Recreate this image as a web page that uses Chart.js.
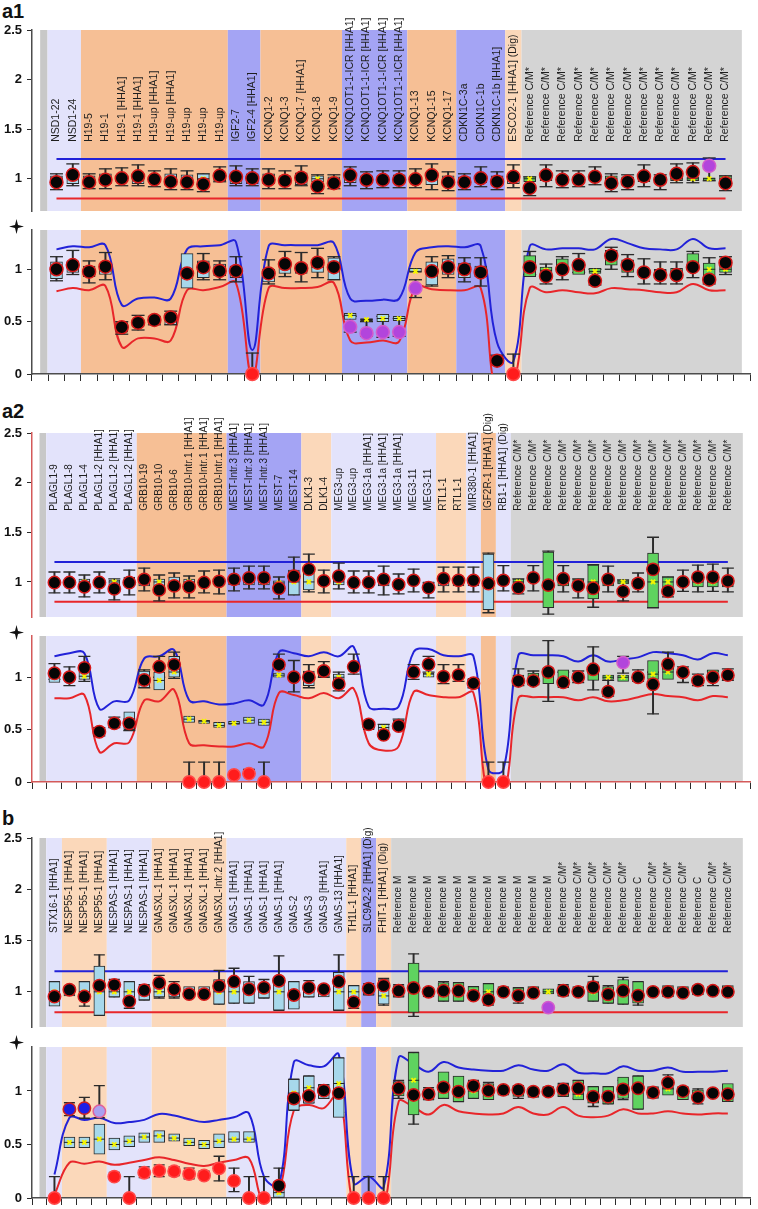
<!DOCTYPE html>
<html>
<head>
<meta charset="utf-8">
<script src="https://cdn.jsdelivr.net/npm/chart.js@4.4.0/dist/chart.umd.min.js"></script>
<style>
  body { margin: 0; background: #fff; }
  #page { position: relative; width: 758px; height: 1209px; overflow: hidden; font-family: "Liberation Sans", Arial, sans-serif; }
  #page canvas { position: absolute; left: 0; }
  .tag { position: absolute; left: 2px; font-weight: bold; font-size: 20px; line-height: 1; color: #111; }
  .brk { position: absolute; left: 9px; width: 15px; height: 15px; }
</style>
</head>
<body>
<div id="page">
  <div class="tag" style="top:1px">a1</div>
  <div class="tag" style="top:401px">a2</div>
  <div class="tag" style="top:808px">b</div>
  <svg class="brk" style="top:219px" viewBox="0 0 14 14"><path d="M7 0 L8.4 5.6 L14 7 L8.4 8.4 L7 14 L5.6 8.4 L0 7 L5.6 5.6 Z" fill="#111"/></svg>
  <svg class="brk" style="top:625px" viewBox="0 0 14 14"><path d="M7 0 L8.4 5.6 L14 7 L8.4 8.4 L7 14 L5.6 8.4 L0 7 L5.6 5.6 Z" fill="#111"/></svg>
  <svg class="brk" style="top:1035px" viewBox="0 0 14 14"><path d="M7 0 L8.4 5.6 L14 7 L8.4 8.4 L7 14 L5.6 8.4 L0 7 L5.6 5.6 Z" fill="#111"/></svg>
</div>
<script>
const rep = (s, n) => Array(n).fill(s);

// ---- a1 ----
const a1Labels = ['NSD1-22', 'NSD1-24', 'H19-5', 'H19-1', 'H19-1 [HHA1]', 'H19-1 [HHA1]', 'H19-up [HHA1]', 'H19-up [HHA1]', 'H19-up', 'H19-up', 'H19-up',
  'IGF2-7', 'IGF2-4 [HHA1]', 'KCNQ1-2', 'KCNQ1-3', 'KCNQ1-7 [HHA1]', 'KCNQ1-8', 'KCNQ1-9', ...rep('KCNQ1OT1-1-ICR [HHA1]', 4),
  'KCNQ1-13', 'KCNQ1-15', 'KCNQ1-17', 'CDKN1C-3a', 'CDKN1C-1b', 'CDKN1C-1b [HHA1]', 'ESCO2-1 [HHA1] (Dig)', ...rep('Reference C/M*', 13)];
const a1Bands = [[0, 0.45, 'gs'], [0.45, 2.5, 'lav'], [2.5, 11.5, 'ora'], [11.5, 13.5, 'blu'], [13.5, 18.5, 'ora'], [18.5, 22.5, 'blu'],
  [22.5, 25.5, 'ora'], [25.5, 28.5, 'blu'], [28.5, 29.5, 'pea'], [29.5, 43, 'gry']];

const a1TopDot = [0.965, 1.04, 0.965, 0.99, 1.005, 1.025, 0.995, 0.97, 0.965, 0.945,
  1.03, 1.02, 1.005, 0.99, 0.98, 1.01, 0.925, 0.955, 1.035, 0.99,
  0.99, 0.99, 0.995, 1.035, 0.965, 0.965, 1.005, 0.97, 1.02, 0.907,
  1.035, 0.99, 0.99, 1.02, 0.955, 0.97, 1.025, 0.99, 1.05, 1.067,
  1.13, 0.955];
const a1TopKind = 'kk kkkkkkkkk kk kkkkk kkkk kkk kkk k kkkkkkkkkkkpk';
const a1TopBoxLo = [0.96, 0.95, 0.96, 0.95, 0.97, 0.95, 0.97, 0.95, 0.96, 0.95,
  0.98, 0.95, 0.95, 0.95, 0.97, 0.94, 0.97, 0.98, 0.96, 0.97,
  0.97, 0.96, 0.97, 0.94, 0.96, 0.97, 0.96, 0.96, 0.95, 0.97,
  0.98, 0.97, 0.98, 0.98, 0.97, 0.97, 0.97, 0.97, 0.98, 0.98,
  0.98, 0.97];
const a1TopBoxHi = [1.03, 1.06, 1.03, 1.05, 1.03, 1.05, 1.03, 1.05, 1.04, 1.05,
  1.02, 1.05, 1.05, 1.05, 1.03, 1.06, 1.03, 1.02, 1.04, 1.03,
  1.03, 1.04, 1.03, 1.07, 1.03, 1.02, 1.04, 1.03, 1.05, 1.02,
  1.02, 1.03, 1.02, 1.02, 1.03, 1.02, 1.03, 1.02, 1.02, 1.02,
  1.01, 1.03];
const a1TopMid = [1.0, 1.01, 0.99, 1.0, 1.0, 1.0, 1.0, 1.0, 1.0, 1.0,
  1.0, 1.0, 1.0, 1.0, 1.0, 1.0, 1.0, 1.0, 1.0, 1.0,
  1.0, 1.0, 1.0, 1.0, 0.99, 1.0, 1.0, 1.0, 1.0, 1.0,
  1.0, 1.0, 1.0, 1.0, 1.0, 1.0, 1.0, 1.0, 1.0, 1.0,
  1.0, 1.0];
const a1TopWhLo = [0.89, 0.93, 0.90, 0.90, 0.93, 0.93, 0.92, 0.89, 0.89, 0.87,
  0.97, 0.93, 0.93, 0.90, 0.90, 0.93, 0.85, 0.90, 0.93, 0.90,
  0.91, 0.91, 0.91, 0.89, 0.88, 0.89, 0.92, 0.89, 0.91, 0.83,
  0.92, 0.91, 0.92, 0.94, 0.87, 0.89, 0.92, 0.89, 0.96, 0.96,
  0.98, 0.88];
const a1TopWhHi = [1.05, 1.15, 1.05, 1.10, 1.11, 1.14, 1.08, 1.10, 1.08, 1.05,
  1.12, 1.13, 1.10, 1.10, 1.08, 1.13, 1.04, 1.04, 1.12, 1.07,
  1.08, 1.08, 1.10, 1.15, 1.07, 1.05, 1.12, 1.07, 1.14, 1.02,
  1.14, 1.08, 1.08, 1.12, 1.05, 1.04, 1.14, 1.04, 1.15, 1.16,
  1.21, 1.03];

const a1BotDot = [1.00, 1.04, 0.977, 1.025, 0.446, 0.49, 0.516, 0.54, 0.96, 1.02,
  0.984, 0.984, 0, 0.96, 1.05, 1.01, 1.063, 1.02, 0.45, 0.39,
  0.40, 0.40, 0.82, 0.98, 1.02, 1.0, 0.97, 0.127, 0, 1.02,
  0.935, 1.0, 1.04, 0.89, 1.13, 1.04, 0.97, 0.945, 0.945, 1.02,
  0.9, 1.063];
const a1BotKind = 'kk kkkkkkkkk kr kkkkk pppp pkk kkk r kkkkkkkkkkkkk';
const a1BotBoxLo = [0.91, 0.97, 0.93, 0.95, 0.40, 0.47, 0.48, 0.47, 0.82, 0.92,
  0.94, 0.92, 0.0, 0.88, 0.96, 0.96, 0.97, 0.90, 0.52, 0.51,
  0.50, 0.51, 0.97, 0.85, 0.95, 0.92, 0.93, 0.12, null, 0.93,
  0.95, 0.97, 0.95, 0.96, 1.04, 0.97, null, 0.97, 0.95, 0.99,
  0.90, 0.97];
const a1BotBoxHi = [1.07, 1.08, 1.03, 1.05, 0.49, 0.52, 0.54, 0.58, 1.15, 1.08,
  1.05, 1.03, 0.03, 1.0, 1.07, 1.05, 1.07, 1.11, 0.58, 0.53,
  0.57, 0.55, 1.01, 1.07, 1.10, 1.06, 1.03, 0.17, null, 1.13,
  1.02, 1.10, 1.06, 1.01, 1.18, 1.09, null, 1.0, 1.01, 1.15,
  1.06, 1.04];
const a1BotMid = [1.0, 1.02, 0.98, 1.0, 0.45, 0.5, 0.52, 0.53, 0.96, 1.0,
  0.99, 0.98, null, 0.95, 1.02, 1.0, 1.02, 1.02, 0.56, 0.52,
  0.53, 0.53, 0.98, 0.98, 1.02, 1.0, 0.98, 0.14, null, 1.02,
  0.99, 1.02, 1.0, 0.98, 1.1, 1.03, null, 0.99, 0.98, 1.03,
  1.0, 1.0];
const a1BotWhLo = [0.89, 0.95, 0.87, 0.90, 0.38, 0.42, 0.47, 0.47, null, 0.90,
  0.90, 0.88, 0.0, 0.86, 0.93, 0.88, 0.92, 0.90, 0.40, 0.36,
  0.35, 0.36, 0.73, 0.84, 0.92, 0.88, 0.84, 0.11, 0.0, 0.95,
  0.86, 0.90, 0.97, 0.85, 1.0, 0.93, 0.86, 0.86, 0.86, 0.92,
  0.86, 0.95];
const a1BotWhHi = [1.12, 1.18, 1.08, 1.16, 0.50, 0.56, 0.55, 0.60, null, 1.15,
  1.08, 1.12, 0.20, 1.09, 1.17, 1.16, 1.20, 1.12, 0.55, 0.50,
  0.55, 0.53, 0.90, 1.12, 1.13, 1.11, 1.11, 0.18, 0.19, 1.17,
  1.05, 1.12, 1.15, 1.0, 1.21, 1.14, 1.10, 1.07, 1.07, 1.17,
  1.11, 1.12];
const a1BotBlue = [1.19, 1.22, 1.21, 1.23, 0.66, 0.72, 0.73, 0.72, 1.19, 1.22,
  1.23, 1.26, 0.23, 1.22, 1.23, 1.23, 1.23, 1.25, 0.72, 0.70,
  0.71, 0.72, 1.16, 1.21, 1.22, 1.21, 1.22, 0.30, 0.12, 1.22,
  1.19, 1.20, 1.20, 1.19, 1.29, 1.25, 1.20, 1.19, 1.19, 1.29,
  1.20, 1.20];
const a1BotRed = [0.79, 0.82, 0.80, 0.84, 0.26, 0.34, 0.34, 0.32, 0.80, 0.80,
  0.83, 0.87, -0.02, 0.82, 0.82, 0.82, 0.83, 0.87, 0.32, 0.30,
  0.32, 0.31, 0.83, 0.81, 0.80, 0.80, 0.82, -0.2, -0.1, 0.82,
  0.78, 0.80, 0.78, 0.77, 0.82, 0.81, 0.80, 0.78, 0.78, 0.86,
  0.80, 0.80];

// ---- a2 ----
const a2Labels = ['PLAGL1-9', 'PLAGL1-8', 'PLAGL1-4', ...rep('PLAGL1-2 [HHA1]', 3), 'GRB10-19', 'GRB10-10', 'GRB10-6', ...rep('GRB10-Intr.1 [HHA1]', 3),
  ...rep('MEST-Intr.3 [HHA1]', 3), 'MEST-7', 'MEST-14', 'DLK1-3', 'DLK1-4', 'MEG3-up', 'MEG3-up', ...rep('MEG3-1a [HHA1]', 3), 'MEG3-11', 'MEG3-11',
  'RTL1-1', 'RTL1-1', 'MIR380-1 [HHA1]', 'IGF2R-1 [HHA1] (Dig)', 'RB1-1 [HHA1] (Dig)', ...rep('Reference C/M*', 15)];
const a2Bands = [[0, 0.45, 'gs'], [0.45, 6.5, 'lav'], [6.5, 12.5, 'ora'], [12.5, 17.5, 'blu'], [17.5, 19.5, 'pea'], [19.5, 26.5, 'lav'],
  [26.5, 28.5, 'pea'], [28.5, 29.5, 'lav'], [29.5, 30.5, 'ora'], [30.5, 31.5, 'lav'], [31.5, 47, 'gry']];

const a2TopDot = [0.994, 0.994, 0.952, 0.994, 0.93, 0.994, 1.026, 0.92, 0.96, 0.952,
  0.994, 1.006, 1.026, 1.04, 1.04, 0.936, 1.057, 1.127, 1.01, 1.057,
  0.994, 0.994, 1.026, 0.974, 1.016, 0.943, 1.032, 1.016, 1.016, 0.984,
  1.016, 0.943, 1.041, 0.968, 1.032, 0.962, 0.936, 1.026, 0.905, 0.984,
  1.127, 0.905, 1.0, 1.048, 1.048, 1.01];
const a2TopKind = 'kkkkkk kkkkkk kkkkk kk kk kkk kk kk k k k kkkkkkkkkkkkkkk';
const a2TopBoxLo = [null, null, 0.97, null, 0.97, 0.96, 0.96, 0.95, 0.97, 0.97,
  null, null, 0.97, 0.97, 0.97, 0.97, 0.87, 0.92, 0.97, 0.97,
  null, 0.97, 0.96, 0.96, null, 0.95, 0.96, 0.96, 0.96, 0.72,
  0.97, 0.97, null, 0.74, 0.96, 0.95, 0.83, 0.96, 0.98, 0.96,
  0.74, 0.92, 0.96, 0.95, 0.95, 0.95];
const a2TopBoxHi = [null, null, 1.03, null, 1.02, 1.05, 1.04, 1.03, 1.05, 1.03,
  null, null, 1.03, 1.05, 1.05, 1.01, 1.12, 1.09, 1.02, 1.03,
  null, 1.03, 1.04, 1.0, null, 1.0, 1.03, 1.03, 1.05, 1.28,
  1.05, 1.03, null, 1.30, 1.06, 1.03, 1.17, 1.04, 1.02, 1.03,
  1.29, 1.05, 1.03, 1.05, 1.04, 1.04];
const a2TopMid = [null, null, 1.0, null, 1.0, 1.0, 1.0, 1.0, 1.0, 1.0,
  null, null, 1.0, 1.0, 1.0, 0.99, 1.0, 1.0, 1.0, 1.0,
  null, 1.0, 1.0, 0.99, null, 0.98, 1.0, 1.0, 1.0, 0.98,
  1.0, 1.0, null, 1.0, 1.0, 1.0, 1.0, 1.0, 1.0, 1.0,
  1.0, 1.0, 1.0, 1.0, 1.0, 1.0];
const a2TopWhLo = [0.89, 0.89, 0.85, 0.89, 0.82, 0.87, 0.91, 0.81, 0.84, 0.84,
  0.89, 0.88, 0.91, 0.93, 0.93, 0.83, 0.87, 0.90, 0.89, 0.93,
  0.89, 0.89, 0.87, 0.88, 0.90, 0.84, 0.90, 0.90, 0.90, 0.69,
  0.91, 0.88, 0.91, 0.675, 0.90, 0.84, 0.745, 0.90, 0.81, 0.90,
  0.74, 0.85, 0.905, 0.90, 0.905, 0.90];
const a2TopWhHi = [1.10, 1.10, 1.07, 1.10, 1.03, 1.12, 1.14, 1.07, 1.09, 1.06,
  1.11, 1.12, 1.14, 1.16, 1.16, 1.05, 1.25, 1.28, 1.12, 1.19,
  1.11, 1.11, 1.16, 1.08, 1.13, 0.99, 1.15, 1.15, 1.15, 1.29,
  1.165, 1.03, 1.165, 1.31, 1.165, 1.03, 1.175, 1.16, 1.02, 1.09,
  1.45, 1.05, 1.12, 1.17, 1.18, 1.14];

const a2BotDot = [1.038, 1.0, 1.09, 0.48, 0.56, 0.56, 0.974, 1.10, 1.12, 0,
  0, 0, 0.067, 0.08, 0, 1.12, 1.0, 1.0, 1.06, 0.936,
  1.10, 0.55, 0.45, 0.535, 1.05, 1.124, 1.006, 1.02, 0.943, 0,
  0, 0.965, 0.965, 1.05, 0.952, 1.0, 1.076, 0.862, 1.14, 1.0,
  0.933, 1.124, 1.048, 0.968, 1.0, 1.02];
const a2BotKind = 'kkkkkk kkkrrr rrrkk kk kk kkk kk kk k r r kkkkkkkpkkkkkkk';
const a2BotBoxLo = [0.95, null, 0.98, 0.45, 0.52, 0.50, 0.90, 0.88, 1.0, 0.57,
  0.56, 0.52, 0.55, 0.56, 0.54, 1.0, null, 0.92, 1.0, 0.97,
  null, 0.50, 0.49, 0.52, 1.0, 1.0, null, null, 0.96, null,
  null, 0.97, 0.96, 0.94, 0.90, 0.98, 0.97, 0.98, 0.96, 0.97,
  0.98, 0.98, null, null, 0.98, 0.97];
const a2BotBoxHi = [1.06, null, 1.06, 0.52, 0.60, 0.67, 1.06, 1.05, 1.2, 0.63,
  0.59, 0.57, 0.58, 0.62, 0.60, 1.04, null, 1.06, 1.1, 1.03,
  null, 0.58, 0.55, 0.59, 1.06, 1.04, null, null, 0.99, null,
  null, 1.02, 1.04, 1.09, 1.07, 1.04, 1.10, 1.02, 1.02, 1.03,
  1.16, 1.10, null, null, 1.07, 1.05];
const a2BotMid = [1.0, null, 1.01, 0.48, 0.56, 0.6, 0.97, 0.97, 1.05, 0.6,
  0.58, 0.54, 0.56, 0.59, 0.57, 1.02, null, 0.98, 1.05, 1.0,
  null, 0.52, 0.52, 0.56, 1.02, 1.03, null, null, 0.97, null,
  null, 0.99, 1.0, 1.01, 0.98, 1.0, 1.04, 1.0, 1.0, 1.0,
  1.03, 1.05, null, null, 1.02, 1.0];
const a2BotWhLo = [0.98, 0.92, 0.96, 0.44, 0.52, 0.49, 0.90, 1.0, 0.99, 0,
  0, 0, null, 0.07, 0, 1.08, 0.86, 0.90, 1.0, 0.87,
  1.03, 0.52, 0.44, 0.51, 0.98, 1.05, 0.94, 0.96, 0.90, 0,
  0, 0.92, 0.93, 0.77, 0.93, 0.95, 0.88, 0.82, 1.04, 0.96,
  0.65, 1.08, 0.95, 0.92, 0.92, 0.97];
const a2BotWhHi = [1.13, 1.10, 1.20, 0.52, 0.62, 0.60, 1.07, 1.20, 1.24, 0.19,
  0.19, 0.19, null, 0.12, 0.19, 1.22, 1.16, 1.12, 1.15, 1.05,
  1.22, 0.57, 0.55, 0.60, 1.12, 1.20, 1.12, 1.12, 0.98, 0.19,
  0.19, 1.08, 1.06, 1.35, 1.05, 1.06, 1.29, 0.97, 1.20, 1.07,
  1.05, 1.24, 1.10, 1.03, 1.06, 1.08];
const a2BotBlue = [1.20, 1.23, 1.23, 0.70, 0.77, 0.78, 1.18, 1.20, 1.26, 0.78,
  0.77, 0.74, 0.75, 0.78, 0.74, 1.24, 1.23, 1.20, 1.24, 1.20,
  1.29, 0.72, 0.70, 0.72, 1.24, 1.27, 1.21, 1.20, 1.20, 0.12,
  0.12, 1.21, 1.21, 1.21, 1.20, 1.15, 1.21, 1.15, 1.17, 1.19,
  1.24, 1.23, 1.21, 1.17, 1.23, 1.21];
const a2BotRed = [0.80, 0.80, 0.83, 0.29, 0.37, 0.38, 0.78, 0.77, 0.88, 0.37,
  0.35, 0.34, 0.34, 0.37, 0.34, 0.85, 0.83, 0.80, 0.85, 0.80,
  0.89, 0.37, 0.30, 0.34, 0.86, 0.83, 0.81, 0.81, 0.85, -0.15,
  -0.15, 0.80, 0.81, 0.81, 0.81, 0.78, 0.81, 0.77, 0.78, 0.81,
  0.84, 0.82, 0.81, 0.78, 0.82, 0.81];

// ---- b ----
const bLabels = ['STX16-1 [HHA1]', ...rep('NESP55-1 [HHA1]', 3), ...rep('NESPAS-1 [HHA1]', 3), ...rep('GNASXL-1 [HHA1]', 4), 'GNASXL-Intr.2 [HHA1]',
  ...rep('GNAS-1 [HHA1]', 4), 'GNAS-2', 'GNAS-3', 'GNAS-9 [HHA1]', 'GNAS-13 [HHA1]', 'TH1L-1 [HHA1]', 'SLC9A2-2 [HHA1] (Dig)', 'FHIT-1 [HHA1] (Dig)',
  ...rep('Reference M', 11), ...rep('Reference C/M*', 5), 'Reference C', ...rep('Reference C/M*', 3), 'Reference C', ...rep('Reference C/M*', 2)];
const bBands = [[0, 0.45, 'gs'], [0.45, 1.5, 'lav'], [1.5, 4.5, 'pea'], [4.5, 7.5, 'lav'], [7.5, 12.5, 'pea'], [12.5, 20.5, 'lav'],
  [20.5, 21.5, 'pea'], [21.5, 22.5, 'blu'], [22.5, 23.5, 'pea'], [23.5, 47, 'gry']];

const bTopDot = [0.954, 1.02, 0.954, 1.06, 1.068, 0.907, 1.015, 1.086, 1.025, 0.978,
  0.978, 1.056, 1.10, 1.025, 1.04, 1.108, 0.969, 1.04, 1.025, 1.10,
  0.90, 1.03, 1.06, 1.01, 1.037, 1.0, 1.01, 1.01, 0.963, 0.923,
  1.0, 0.963, 0.99, 0.846, 1.01, 1.0, 1.046, 0.975, 1.01, 0.963,
  1.0, 1.0, 0.99, 1.02, 1.01, 1.0];
const bTopKind = 'k kkk kkk kkkk k kkkk kkkk k k k kkkkkkkkkkpkkkkkkkkkkkk';
const bTopBoxLo = [0.86, 0.96, 0.92, 0.77, 0.95, 0.91, 0.92, 0.95, 0.95, 0.95,
  0.95, 0.88, 0.89, 0.89, 0.94, 0.82, 0.83, 0.95, 0.95, 0.82,
  0.94, 0.97, 0.88, 0.95, 0.80, 0.95, 0.91, 0.91, 0.93, 0.88,
  0.97, 0.92, 0.95, 0.98, 0.96, 0.97, 0.91, 0.89, 0.88, 0.89,
  0.97, 0.95, 0.96, 0.97, 0.98, 0.96];
const bTopBoxHi = [1.10, 1.06, 1.10, 1.25, 1.10, 1.10, 1.06, 1.12, 1.06, 1.05,
  1.05, 1.12, 1.10, 1.10, 1.07, 1.14, 1.10, 1.05, 1.06, 1.19,
  1.06, 1.05, 1.12, 1.06, 1.28, 1.04, 1.09, 1.09, 1.05, 1.08,
  1.05, 1.04, 1.05, 1.03, 1.06, 1.05, 1.10, 1.05, 1.12, 1.10,
  1.04, 1.06, 1.05, 1.06, 1.05, 1.06];
const bTopMid = [1.0, 1.02, 1.0, 1.0, 1.0, 1.0, 1.0, 1.0, 1.01, 0.98,
  0.98, 1.0, 1.0, 1.0, 1.0, 1.0, 1.0, 1.0, 1.0, 1.0,
  1.0, 1.02, 0.96, 1.0, 1.0, 1.0, 1.0, 1.0, 0.98, 1.0,
  1.0, 0.98, 1.0, 1.0, 1.0, 1.0, 1.0, 0.98, 1.0, 0.98,
  1.0, 1.0, 1.0, 1.0, 1.0, 1.0];
const bTopWhLo = [0.87, null, 0.86, 0.77, 0.95, 0.84, 0.92, 0.94, 0.94, null,
  null, 0.88, 0.89, 0.89, 0.94, 0.82, 0.85, 0.95, null, 0.82,
  0.84, 0.97, 0.87, 0.95, 0.76, null, 0.91, 0.91, 0.93, 0.87,
  null, 0.89, null, 0.81, 0.96, null, 0.91, 0.89, 0.88, 0.87,
  null, null, null, null, null, null];
const bTopWhHi = [1.10, null, 1.10, 1.36, 1.12, 1.10, 1.07, 1.16, 1.10, null,
  null, 1.21, 1.23, 1.15, 1.12, 1.35, 1.10, 1.11, null, 1.36,
  1.06, 1.08, 1.13, 1.07, 1.37, null, 1.10, 1.09, 1.05, 1.08,
  null, 1.04, null, 0.87, 1.07, null, 1.15, 1.06, 1.14, 1.10,
  null, null, null, null, null, null];

const bBotDot = [0, 0.83, 0.84, 0.81, 0.20, 0, 0.236, 0.255, 0.25, 0.224,
  0.21, 0.277, 0.16, 0, 0, 0.115, 0.93, 0.953, 1.003, 0.98,
  0, 0, 0, 1.025, 0.963, 0.972, 1.034, 0.994, 1.047, 1.003,
  1.01, 1.01, 0.994, 0.994, 1.015, 1.025, 0.947, 0.947, 1.015, 1.025,
  0.986, 1.077, 0.998, 0.94, 0.98, 0.97];
const bBotKind = 'r bbl rrr rrrr r rrrk kkkk r r r kkkkkkkkkkkkkkkkkkkkkkk';
const bBotBoxLo = [null, 0.47, 0.47, 0.41, 0.45, 0.48, 0.52, 0.52, 0.53, 0.49,
  0.46, 0.47, 0.52, 0.52, null, 0.0, 0.82, 0.885, 0.93, 0.754,
  null, null, null, 0.953, 0.776, 0.916, 0.93, 0.90, 0.93, 0.92,
  0.96, 0.95, 0.94, 0.96, 0.95, 0.916, 0.885, 0.88, 0.93, 0.83,
  0.93, 0.96, 0.92, 0.91, 0.96, 0.90];
const bBotBoxHi = [null, 0.57, 0.57, 0.69, 0.56, 0.58, 0.61, 0.63, 0.60, 0.56,
  0.54, 0.60, 0.62, 0.62, null, 0.15, 1.11, 1.14, 1.06, 1.31,
  null, null, null, 1.087, 1.36, 1.016, 1.18, 1.14, 1.09, 1.07,
  1.04, 1.05, 1.03, 1.04, 1.07, 1.10, 1.04, 1.04, 1.13, 1.14,
  1.04, 1.04, 1.04, 1.01, 1.01, 1.07];
const bBotMid = [null, 0.52, 0.52, 0.55, 0.50, 0.53, 0.57, 0.58, 0.56, 0.52,
  0.50, 0.53, 0.55, 0.55, null, 0.05, 0.98, 1.03, 1.0, 1.07,
  null, null, null, 1.02, 1.1, 0.97, 1.0, 1.0, 1.0, 1.0,
  1.0, 1.0, 1.0, 1.0, 1.02, 0.97, 0.95, 0.95, 1.0, 1.0,
  1.0, 1.02, 1.0, 0.97, 0.98, 1.0];
const bBotWhLo = [0, 0.77, 0.745, 0.75, 0.17, 0, 0.19, 0.20, 0.21, 0.18,
  0.19, 0.16, 0.06, 0, 0, 0, 0.82, 0.89, 0.93, 0.80,
  0, 0, 0, 0.93, 0.69, 0.92, 0.93, 0.90, 0.93, 0.95,
  null, 0.93, null, 0.96, 0.95, 0.93, 0.855, 0.88, 0.92, 0.83,
  null, 1.02, null, 0.88, null, null];
const bBotWhHi = [0.2, 0.89, 0.94, 1.05, 0.24, 0.2, 0.29, 0.31, 0.29, 0.28,
  0.25, 0.39, 0.28, 0.2, 0.2, 0.28, 1.11, 1.14, 1.06, 1.31,
  0.2, 0.2, 0.2, 1.10, 1.36, 1.03, 1.12, 1.12, 1.10, 1.08,
  null, 1.05, null, 1.03, 1.07, 1.10, 1.04, 1.04, 1.10, 1.14,
  null, 1.15, null, 1.02, null, null];
const bBotBlue = [0.22, 0.75, 0.73, 0.75, 0.70, 0.71, 0.73, 0.785, 0.77, 0.735,
  0.71, 0.73, 0.755, 0.79, 0.2, 0.12, 1.27, 1.24, 1.23, 1.34,
  0.14, 0.2, 0.1, 1.31, 1.25, 1.18, 1.27, 1.22, 1.20, 1.19,
  1.19, 1.24, 1.20, 1.19, 1.25, 1.17, 1.166, 1.166, 1.23, 1.19,
  1.19, 1.22, 1.18, 1.18, 1.18, 1.19];
const bBotRed = [0.03, 0.33, 0.32, 0.34, 0.31, 0.33, 0.355, 0.38, 0.355, 0.32,
  0.30, 0.33, 0.355, 0.37, -0.05, 0.05, 0.82, 0.87, 0.84, 0.98,
  -0.1, -0.15, -0.1, 0.90, 0.85, 0.78, 0.87, 0.81, 0.79, 0.78,
  0.79, 0.85, 0.79, 0.78, 0.85, 0.77, 0.755, 0.77, 0.83, 0.79,
  0.79, 0.81, 0.79, 0.78, 0.79, 0.79];

// limiares fixos do painel superior
const upperBlue = 1.2;
const upperRed = 0.8;
const upperTicks = [1, 1.5, 2, 2.5];
const lowerTicks = [0, 0.5, 1];

const FONT = '"Liberation Sans", Arial, sans-serif';
const bandColor = { gs: '#c8c8c8', lav: '#e3e3fb', ora: '#f6bf95', blu: '#a4a4f4', pea: '#fbd8ba', gry: '#d4d4d4' };
const kindFill = { k: '#060606', r: '#ff1c1c', p: '#b245dc', b: '#1e1ee6', l: '#a9a0f0' };
const kindLine = { k: '#d61818', r: '#ff4a4a', p: '#d45ccc', b: '#cf2020', l: '#e0609a' };
const BLUE = '#2222d8';
const RED = '#e8262a';

// fundo colorido por região
const bandsPlugin = {
  id: 'bands',
  beforeDraw(chart, args, opts) {
    const { ctx, chartArea: a, scales: { x } } = chart;
    ctx.save();
    opts.list.forEach(([from, to, key]) => {
      const x1 = x.getPixelForValue(from);
      const x2 = x.getPixelForValue(to);
      ctx.fillStyle = bandColor[key];
      ctx.fillRect(x1, a.top, x2 - x1, a.bottom - a.top);
    });
    ctx.restore();
  }
};

// nomes das sondas, na vertical
const namesPlugin = {
  id: 'names',
  beforeDatasetsDraw(chart, args, opts) {
    if (!opts.labels) return;
    const { ctx, scales: { x, y } } = chart;
    const base = y.getPixelForValue(opts.base);
    ctx.save();
    ctx.font = opts.size + 'px ' + FONT;
    ctx.fillStyle = '#1e1e1e';
    ctx.textAlign = 'left';
    ctx.textBaseline = 'middle';
    opts.labels.forEach((t, i) => {
      ctx.save();
      ctx.translate(x.getPixelForValue(i + 1), base);
      ctx.rotate(-Math.PI / 2);
      ctx.fillText(t, 0, 0);
      ctx.restore();
    });
    ctx.restore();
  }
};

const panels = [
  {
    labels: a1Labels, bands: a1Bands, axisColor: '#4d4d4d', right: 752, nameBase: 1.372, nameSize: 10.5,
    barW: 12, capR: 6.5, dotR: 6.5,
    top: { y0: 30, y1: 221, min: 0.675, max: 2.5, dot: a1TopDot, kind: a1TopKind, lo: a1TopBoxLo, hi: a1TopBoxHi, mid: a1TopMid, wlo: a1TopWhLo, whi: a1TopWhHi },
    bot: { y0: 230, y1: 374, min: 0, max: 1.375, dot: a1BotDot, kind: a1BotKind, lo: a1BotBoxLo, hi: a1BotBoxHi, mid: a1BotMid, wlo: a1BotWhLo, whi: a1BotWhHi, blue: a1BotBlue, red: a1BotRed }
  },
  {
    labels: a2Labels, bands: a2Bands, axisColor: '#d45a5a', right: 752, nameBase: 1.716, nameSize: 10,
    barW: 11, capR: 6, dotR: 6.2,
    top: { y0: 433, y1: 627, min: 0.647, max: 2.5, dot: a2TopDot, kind: a2TopKind, lo: a2TopBoxLo, hi: a2TopBoxHi, mid: a2TopMid, wlo: a2TopWhLo, whi: a2TopWhHi },
    bot: { y0: 636, y1: 782, min: 0, max: 1.394, dot: a2BotDot, kind: a2BotKind, lo: a2BotBoxLo, hi: a2BotBoxHi, mid: a2BotMid, wlo: a2BotWhLo, whi: a2BotWhHi, blue: a2BotBlue, red: a2BotRed }
  },
  {
    labels: bLabels, bands: bBands, axisColor: '#4d4d4d', right: 754, nameBase: 1.574, nameSize: 10,
    barW: 11, capR: 5.5, dotR: 6.2,
    top: { y0: 838, y1: 1037, min: 0.657, max: 2.5, dot: bTopDot, kind: bTopKind, lo: bTopBoxLo, hi: bTopBoxHi, mid: bTopMid, wlo: bTopWhLo, whi: bTopWhHi },
    bot: { y0: 1047, y1: 1198, min: 0, max: 1.411, dot: bBotDot, kind: bBotKind, lo: bBotBoxLo, hi: bBotBoxHi, mid: bBotMid, wlo: bBotWhLo, whi: bBotWhHi, blue: bBotBlue, red: bBotRed }
  }
];

const pts = arr => arr.map((v, i) => (v === null ? null : { x: i + 1, y: v })).filter(Boolean);

function makeChart(p, part, isTop) {
  const n = p.labels.length;
  const canvas = document.createElement('canvas');
  canvas.width = 758;
  canvas.height = part.y1 - part.y0 + 40;
  canvas.style.top = (part.y0 - 20) + 'px';
  document.getElementById('page').appendChild(canvas);

  const kinds = part.kind.replace(/ /g, '').split('');
  const dotData = [], dotFill = [], dotLine = [];
  part.dot.forEach((v, i) => {
    if (v === null) return;
    dotData.push({ x: i + 1, y: v });
    dotFill.push(kindFill[kinds[i]]);
    dotLine.push(kindLine[kinds[i]]);
  });

  const boxData = [], boxFill = [];
  part.lo.forEach((v, i) => {
    if (v === null || part.hi[i] === null) return;
    boxData.push({ x: i + 1, y: [v, part.hi[i]] });
    boxFill.push(p.labels[i].startsWith('Reference') ? '#5fd35f' : '#a7d8eb');
  });

  const whData = [];
  part.wlo.forEach((v, i) => {
    if (v === null || part.whi[i] === null) return;
    whData.push({ x: i + 1, y: [v, part.whi[i]] });
  });

  const datasets = [];
  if (isTop) {
    datasets.push({ type: 'line', data: [{ x: 1, y: upperBlue }, { x: n, y: upperBlue }], borderColor: BLUE, borderWidth: 2, pointRadius: 0, order: 10 });
    datasets.push({ type: 'line', data: [{ x: 1, y: upperRed }, { x: n, y: upperRed }], borderColor: RED, borderWidth: 2, pointRadius: 0, order: 10 });
  } else {
    datasets.push({ type: 'line', data: pts(part.blue), borderColor: BLUE, borderWidth: 2, pointRadius: 0, tension: 0.4, order: 10 });
    datasets.push({ type: 'line', data: pts(part.red), borderColor: RED, borderWidth: 2, pointRadius: 0, tension: 0.4, order: 10 });
  }
  datasets.push({ type: 'bar', data: whData, backgroundColor: '#2b2b2b', borderWidth: 0, barThickness: 1.3, grouped: false, order: 9 });
  datasets.push({ type: 'scatter', data: [...pts(part.wlo), ...pts(part.whi)], pointStyle: 'line', pointRadius: p.capR, pointBorderColor: '#2b2b2b', pointBorderWidth: 1.3, order: 8 });
  datasets.push({ type: 'bar', data: boxData, backgroundColor: boxFill, borderColor: '#2b2b2b', borderWidth: 1, borderSkipped: false, barThickness: p.barW, grouped: false, order: 7 });
  datasets.push({ type: 'scatter', data: pts(part.mid), pointStyle: 'line', pointRadius: p.barW / 2, pointBorderColor: '#222', pointBorderWidth: 1, order: 6 });
  datasets.push({ type: 'scatter', data: pts(part.mid), pointStyle: 'crossRot', pointRadius: 3, pointBorderColor: '#f4f400', pointBorderWidth: 2, order: 5 });
  datasets.push({ type: 'scatter', data: dotData, pointRadius: p.dotR, pointBackgroundColor: dotFill, pointBorderColor: dotLine, pointBorderWidth: 1.5, clip: false, order: 1 });

  const yTicks = isTop ? upperTicks : lowerTicks;

  new Chart(canvas.getContext('2d'), {
    type: 'scatter',
    data: { datasets },
    plugins: [bandsPlugin, namesPlugin],
    options: {
      responsive: false,
      animation: false,
      devicePixelRatio: 1,
      events: [],
      layout: { padding: { top: 20, bottom: isTop ? 20 : 10, left: 0, right: 758 - p.right } },
      plugins: {
        legend: { display: false },
        tooltip: { enabled: false },
        bands: { list: p.bands },
        names: isTop ? { labels: p.labels, base: p.nameBase, size: p.nameSize } : {}
      },
      scales: {
        x: {
          type: 'linear',
          display: !isTop,
          min: 0,
          max: n + 1,
          afterBuildTicks: s => { s.ticks = Array.from({ length: n + 2 }, (_, i) => ({ value: i })); },
          afterFit: s => { s.height = 10; },
          ticks: { display: false },
          grid: { drawOnChartArea: false, tickLength: 7, color: '#2b2b2b' },
          border: { color: p.axisColor, width: 1.5 }
        },
        y: {
          type: 'linear',
          min: part.min,
          max: part.max,
          afterBuildTicks: s => { s.ticks = yTicks.map(v => ({ value: v })); },
          afterFit: s => { s.width = 32; },
          ticks: { color: '#111', padding: 5, font: { family: FONT, size: 13, weight: 'bold' }, callback: v => String(v) },
          grid: { drawOnChartArea: false, tickLength: 5, color: '#2b2b2b' },
          border: { color: p.axisColor, width: 1.5 }
        }
      }
    }
  });
}

document.addEventListener('DOMContentLoaded', () => {
  panels.forEach(p => {
    makeChart(p, p.top, true);
    makeChart(p, p.bot, false);
  });
});
</script>
</body>
</html>
